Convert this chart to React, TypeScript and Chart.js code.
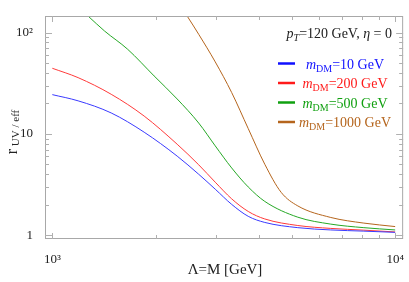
import { useEffect, useRef } from "react";
import { Chart, registerables } from "chart.js";
Chart.register(...registerables);

const lambdaGrid = [1000, 1189, 1485, 1853, 2313, 2673, 2987, 3335, 3727, 4166, 5200, 6490, 8103, 10000];
const ratio10 = [24.4, 21.2, 16.1, 10.4, 6.04, 4.0, 2.85, 2.02, 1.54, 1.34, 1.19, 1.13, 1.1, 1.07];
const ratio200 = [44.4, 35.9, 24.6, 15.0, 7.91, 4.96, 3.34, 2.29, 1.72, 1.45, 1.25, 1.17, 1.125, 1.08];
const lambda500 = [1202, 1271, 1420, 1659, 1981, 2313, 2673, 2987, 3335, 3727, 4166, 5200, 6490, 8103, 10000];
const ratio500 = [172, 145.4, 103.5, 68.3, 37.3, 22.1, 12.8, 7.62, 4.62, 3.0, 2.16, 1.51, 1.29, 1.19, 1.13];
const lambda1000 = [2339, 2473, 2673, 2987, 3335, 3727, 4166, 4652, 5200, 6490, 8103, 10000];
const ratio1000 = [193, 145.4, 96.0, 51.3, 25.6, 11.3, 5.02, 2.65, 1.95, 1.5, 1.32, 1.22];

const massLabels = ["10", "200", "500", "1000"];
const lineColors = ["#3a3aff", "#ff3a3a", "#26a826", "#b5651d"];
const legendColors = ["#1010ff", "#ff1a1a", "#10a010", "#b5651d"];

const xTickValues = [1000, 2000, 3000, 4000, 5000, 6000, 7000, 8000, 9000, 10000];
const xTickLabels: Record<number, string> = { 1000: "10³", 10000: "10⁴" };
const yTickValues = [1, 2, 3, 4, 5, 6, 7, 8, 9, 10, 20, 30, 40, 50, 60, 70, 80, 90, 100];
const yTickLabels: Record<number, string> = { 1: "1", 10: "10", 100: "10²" };

const SERIF = "'Liberation Serif', 'DejaVu Serif', serif";

type Seg = { t: string; size: number; italic?: boolean; dy?: number; color?: string };

function richWidth(ctx: CanvasRenderingContext2D, segs: Seg[]) {
  let w = 0;
  for (const s of segs) {
    ctx.font = `${s.italic ? "italic " : ""}${s.size}px ${SERIF}`;
    w += ctx.measureText(s.t).width;
  }
  return w;
}
function drawRich(ctx: CanvasRenderingContext2D, segs: Seg[], x: number, y: number, color: string) {
  let cx = x;
  ctx.textBaseline = "alphabetic";
  ctx.textAlign = "left";
  for (const s of segs) {
    ctx.font = `${s.italic ? "italic " : ""}${s.size}px ${SERIF}`;
    ctx.fillStyle = s.color || color;
    ctx.fillText(s.t, cx, y + (s.dy || 0));
    cx += ctx.measureText(s.t).width;
  }
}

const decorPlugin = {
  id: "decor",
  afterDraw(chart: any) {
    const ctx: CanvasRenderingContext2D = chart.ctx;
    const { left, right, top, bottom } = chart.chartArea;
    const xs = chart.scales.x;
    const ys = chart.scales.y;
    ctx.save();
    // frame
    ctx.strokeStyle = "#a8a8a8";
    ctx.lineWidth = 1;
    ctx.strokeRect(left + 0.5, top + 0.5, right - left - 1, bottom - top - 1);
    // inward ticks
    ctx.strokeStyle = "#b0b0b0";
    ctx.beginPath();
    for (const v of xTickValues) {
      const px = Math.round(xs.getPixelForValue(v)) + 0.5;
      const len = xTickLabels[v] ? 6 : 4;
      ctx.moveTo(px, bottom);
      ctx.lineTo(px, bottom - len);
      ctx.moveTo(px, top);
      ctx.lineTo(px, top + len);
    }
    for (const v of yTickValues) {
      const py = Math.round(ys.getPixelForValue(v)) + 0.5;
      if (py < top || py > bottom) continue;
      const len = yTickLabels[v] ? 7 : 4;
      ctx.moveTo(left, py);
      ctx.lineTo(left + len, py);
      ctx.moveTo(right, py);
      ctx.lineTo(right - len, py);
    }
    ctx.stroke();

    // x title
    ctx.fillStyle = "#222";
    ctx.font = `15px ${SERIF}`;
    ctx.textAlign = "center";
    ctx.textBaseline = "middle";
    ctx.fillText("Λ=M [GeV]", 225, 270);

    // y title
    ctx.save();
    ctx.translate(12, 132);
    ctx.rotate(-Math.PI / 2);
    const ySegs: Seg[] = [
      { t: "r", size: 16 },
      { t: " UV / eff", size: 11, dy: 2 },
    ];
    const yw = richWidth(ctx, ySegs);
    drawRich(ctx, ySegs, -yw / 2, 5, "#222");
    ctx.restore();

    // annotation
    const aSegs: Seg[] = [
      { t: "p", size: 14, italic: true },
      { t: "T", size: 10, italic: true, dy: 3 },
      { t: "=120 GeV, ", size: 14 },
      { t: "η", size: 14, italic: true },
      { t: " = 0", size: 14 },
    ];
    const aw = richWidth(ctx, aSegs);
    drawRich(ctx, aSegs, 392 - aw, 38, "#222");

    // legend
    chart.data.datasets.forEach((ds: any, i: number) => {
      const ly = 63.5 + i * 19.5;
      ctx.strokeStyle = legendColors[i];
      ctx.lineWidth = 2.5;
      ctx.beginPath();
      ctx.moveTo(278, ly);
      ctx.lineTo(295, ly);
      ctx.stroke();
      const segs: Seg[] = [
        { t: "m", size: 14, italic: true },
        { t: "DM", size: 10, dy: 3 },
        { t: `=${massLabels[i]} GeV`, size: 14 },
      ];
      const w = richWidth(ctx, segs);
      drawRich(ctx, segs, 345 - w / 2, ly + 5, legendColors[i]);
    });
    ctx.restore();
  },
};

function makeData(xv: number[], yv: number[]) {
  return xv.map((x, i) => ({ x, y: yv[i] }));
}

export default function App() {
  const ref = useRef<HTMLCanvasElement | null>(null);
  useEffect(() => {
    document.body.style.margin = "0";
    const canvas = ref.current!;
    const seriesX = [lambdaGrid, lambdaGrid, lambda500, lambda1000];
    const seriesY = [ratio10, ratio200, ratio500, ratio1000];
    const chart = new Chart(canvas, {
      type: "line",
      data: {
        datasets: seriesX.map((xv, i) => ({
          label: `mDM=${massLabels[i]} GeV`,
          data: makeData(xv, seriesY[i]),
          borderColor: lineColors[i],
          borderWidth: 1,
          pointRadius: 0,
          cubicInterpolationMode: "monotone" as const,
          fill: false,
        })),
      },
      options: {
        responsive: false,
        animation: false,
        layout: { padding: { top: 16, right: 3, left: 0, bottom: 0 } },
        plugins: { legend: { display: false }, tooltip: { enabled: false } },
        scales: {
          x: {
            type: "logarithmic",
            min: 952,
            max: 10550,
            afterBuildTicks: (s: any) => {
              s.ticks = xTickValues.map((v) => ({ value: v }));
            },
            afterFit: (s: any) => {
              s.height = 43;
            },
            ticks: {
              autoSkip: false,
              maxRotation: 0,
              padding: 5,
              color: "#222",
              font: { family: SERIF, size: 13 },
              callback: (v: any) => xTickLabels[Number(v)] ?? "",
            },
            grid: { display: false },
            border: { display: false },
          },
          y: {
            type: "logarithmic",
            min: 0.92,
            max: 145.5,
            afterBuildTicks: (s: any) => {
              s.ticks = yTickValues.map((v) => ({ value: v }));
            },
            afterFit: (s: any) => {
              s.width = 45;
            },
            ticks: {
              autoSkip: false,
              padding: 4,
              color: "#222",
              font: { family: SERIF, size: 13 },
              callback: (v: any) => yTickLabels[Number(v)] ?? "",
            },
            grid: { display: false },
            border: { display: false },
          },
        },
      },
      plugins: [decorPlugin],
    } as any);
    return () => chart.destroy();
  }, []);
  return (
    <div style={{ width: 409, height: 282, background: "#fff" }}>
      <canvas ref={ref} width={409} height={282} />
    </div>
  );
}
